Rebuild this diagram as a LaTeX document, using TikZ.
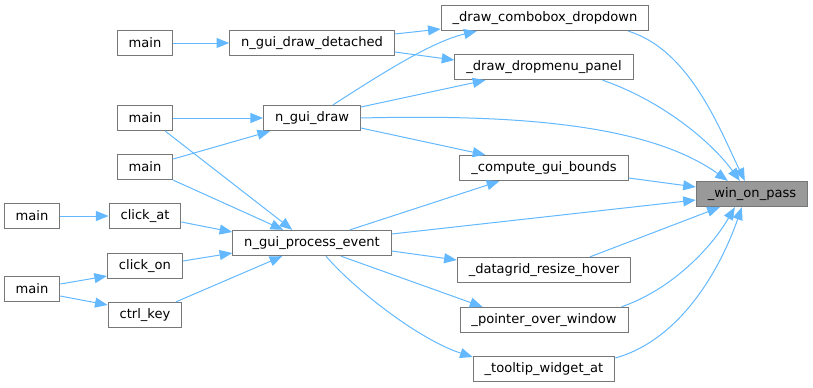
\documentclass[tikz,border=0pt]{standalone}
\usepackage{fontspec}
\setmainfont{DejaVu Sans}
\usetikzlibrary{arrows.meta, calc}
\definecolor{cedge}{HTML}{63B8FF}
\definecolor{cborder}{HTML}{777777}
\definecolor{cfocus}{HTML}{999999}
\tikzset{
  every picture/.style={font=\fontsize{9.8pt}{12pt}\selectfont, line width=0.75pt},
  fn/.style={draw=cborder, fill=#1, minimum height=19pt, inner xsep=8.6pt, inner ysep=0pt},
  fn/.default=white,
  call/.style={draw=cedge, -{Triangle[length=9.5pt, width=7.5pt]}},
}

\begin{document}
\begin{tikzpicture}[x=0.75pt, y=-0.75pt]
  \useasboundingbox (0,0) rectangle (813,387);
  \foreach \n/\x/\y/\t in {ma1/145/43/main, ngdd/312/43/n\_gui\_draw\_detached, ma2/145/118/main,
      ngd/312/118/n\_gui\_draw, ma3/145/167/main, cbd/545/18/\_draw\_combobox\_dropdown,
      ddp/544/67/\_draw\_dropmenu\_panel, cgb/544/168/\_compute\_gui\_bounds, ma4/32/216/main,
      cat/145/216/click\_at, npe/312/243/n\_gui\_process\_event, con/145/266/click\_on,
      ma5/32/289/main, ckey/145/315/ctrl\_key, dgr/544/270/\_datagrid\_resize\_hover,
      pow/544/320/\_pointer\_over\_window, twa/544/369/\_tooltip\_widget\_at}
    \node[fn] (\n) at (\x,\y) {\t};
  \node[fn=cfocus] (wop) at (752,194) {\_win\_on\_pass};

  \draw[call] (ma1.east) -- (ngdd.west);
  \draw[call] ($(ngdd.east)+(0,-9)$) -- ($(cbd.west)+(0,11)$);
  \draw[call] ($(ngdd.east)+(0,9)$) -- ($(ddp.west)+(0,-7)$);
  \draw[call] ($(ngd.north)+(21,0)$) .. controls (375,78) and (430,42) .. ($(cbd.south west)+(36,0)$);
  \draw[call] ($(ngd.east)+(0,-11)$) -- ($(ddp.south west)+(31,0)$);
  \draw[call] (ngd.east) .. controls (520,114) and (650,125) .. ($(wop.north west)+(32,0)$);
  \draw[call] ($(ngd.east)+(0,10)$) -- ($(cgb.north west)+(26,0)$);
  \draw[call] (ma2.east) -- (ngd.west);
  \draw[call] ($(ma2.south east)+(-8,0)$) -- ($(npe.north west)+(60,0)$);
  \draw[call] ($(ma3.east)+(0,-8)$) -- ($(ngd.south west)+(7,0)$);
  \draw[call] (ma3.south east) -- ($(npe.north west)+(51,0)$);
  \draw[call] (ma4.east) -- (cat.west);
  \draw[call] ($(cat.east)+(0,6)$) -- ($(npe.west)+(0,-11)$);
  \draw[call] ($(con.east)+(0,-5)$) -- ($(npe.west)+(0,10)$);
  \draw[call] ($(ma5.east)+(0,-5)$) -- ($(con.west)+(0,10)$);
  \draw[call] ($(ma5.east)+(0,7)$) -- ($(ckey.west)+(0,-10)$);
  \draw[call] ($(ckey.north)+(31,0)$) -- ($(npe.south west)+(50,0)$);
  \draw[call] ($(npe.north)+(38,0)$) -- ($(cgb.south west)+(40,0)$);
  \draw[call] ($(npe.east)+(0,-9)$) -- ($(wop.west)+(0,6)$);
  \draw[call] ($(npe.east)+(0,8)$) -- ($(dgr.west)+(0,-10)$);
  \draw[call] ($(npe.south)+(29,0)$) -- ($(pow.north west)+(23,0)$);
  \draw[call] ($(npe.south)+(14,0)$) .. controls (355,290) and (420,340) .. ($(twa.west)+(0,-12)$);
  \draw[call] ($(cbd.south east)+(-21,0)$) .. controls (690,50) and (720,130) .. ($(wop.north west)+(49,0)$);
  \draw[call] ($(ddp.south east)+(-31,0)$) .. controls (660,100) and (710,140) .. ($(wop.north west)+(44,0)$);
  \draw[call] ($(cgb.east)+(0,10)$) -- ($(wop.west)+(0,-7)$);
  \draw[call] ($(dgr.north)+(46,0)$) -- ($(wop.south west)+(24,0)$);
  \draw[call] ($(pow.north east)+(-7,0)$) .. controls (670,290) and (710,250) .. ($(wop.south west)+(39,0)$);
  \draw[call] ($(twa.east)+(0,-11)$) .. controls (680,340) and (720,270) .. ($(wop.south west)+(46,0)$);
\end{tikzpicture}
\end{document}
